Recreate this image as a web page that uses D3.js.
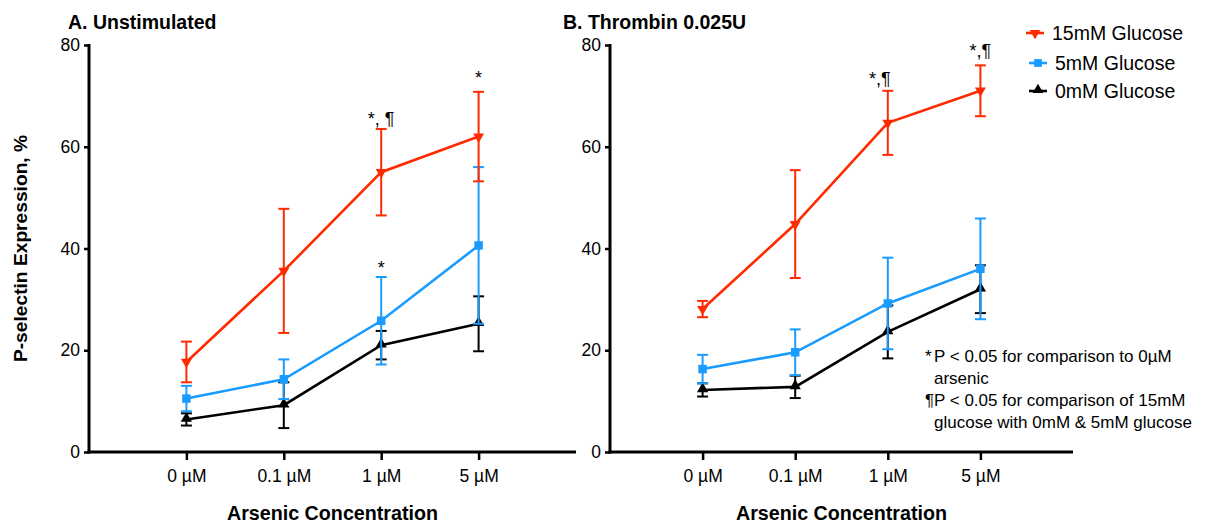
<!DOCTYPE html>
<html>
<head>
<meta charset="utf-8">
<script src="https://cdn.jsdelivr.net/npm/d3@7"></script>
<style>
  html, body { margin: 0; padding: 0; background: #fff; }
  svg { display: block; }
  text { font-family: "Liberation Sans", Arial, Helvetica, sans-serif; fill: #000; }
</style>
</head>
<body>
<svg id="chart" width="1211" height="525"></svg>
<script>
// ---------- data ----------
const categories = ["0 µM", "0.1 µM", "1 µM", "5 µM"];
const yTicks = [0, 20, 40, 60, 80];
const seriesNames = ["15mM Glucose", "5mM Glucose", "0mM Glucose"];
const seriesColors = ["#ff2a00", "#1a9bff", "#000000"];

// Panel A: Unstimulated (mean, error)
const unstim15 = [17.7, 35.6, 55.0, 62.0];
const unstim15Err = [4.0, 12.2, 8.5, 8.8];
const unstim5 = [10.5, 14.3, 25.8, 40.6];
const unstim5Err = [2.5, 3.9, 8.6, 15.4];
const unstim0 = [6.4, 9.2, 21.0, 25.2];
const unstim0Err = [1.2, 4.5, 2.8, 5.4];

// Panel B: Thrombin 0.025U (mean, error)
const thromb15 = [28.1, 44.8, 64.7, 71.0];
const thromb15Err = [1.6, 10.6, 6.3, 5.0];
const thromb5 = [16.3, 19.6, 29.2, 36.0];
const thromb5Err = [2.8, 4.5, 9.0, 9.9];
const thromb0 = [12.2, 12.8, 23.6, 32.0];
const thromb0Err = [1.3, 2.2, 5.2, 4.7];

// significance marks: category index, label, y (data units of baseline)
const unstimMarks = [
  { i: 2, label: "*, ¶", y: 64.3 },
  { i: 3, label: "*", y: 72.3 },
  { i: 2, label: "*", y: 35.0 }
];
const thrombMarks = [
  { i: 2, label: "*,¶", y: 72.1, dx: -8 },
  { i: 3, label: "*,¶", y: 77.6 }
];

const footnotes = [
  ["* ", "P < 0.05 for comparison to 0µM"],
  ["", "arsenic"],
  ["¶", "P < 0.05 for comparison of 15mM"],
  ["", "glucose with 0mM & 5mM glucose"]
];

// ---------- drawing ----------
const svg = d3.select("#chart");
const yTop = 45, yBottom = 452;

const panels = [
  {
    title: "A. Unstimulated", x0: 89, x1: 576, titleX: 68,
    series: [[unstim0, unstim0Err], [unstim5, unstim5Err], [unstim15, unstim15Err]],
    marks: unstimMarks
  },
  {
    title: "B. Thrombin 0.025U", x0: 610, x1: 1073, titleX: 563,
    series: [[thromb0, thromb0Err], [thromb5, thromb5Err], [thromb15, thromb15Err]],
    marks: thrombMarks
  }
];
// series drawn order: 0mM, 5mM, 15mM -> map to colours/symbols
const drawOrder = [2, 1, 0];

const symbolFor = (k, size) => {
  if (k === 1) return d3.symbol().type(d3.symbolSquare).size(size)();
  return d3.symbol().type(d3.symbolTriangle).size(size)();
};

const y = d3.scaleLinear().domain([0, 80]).range([yBottom, yTop]);

panels.forEach(p => {
  const x = d3.scaleLinear().domain([0, 5]).range([p.x0, p.x1]);
  const g = svg.append("g");

  // title
  g.append("text").attr("x", p.titleX).attr("y", 29)
    .attr("font-size", 19.5).attr("font-weight", "bold").text(p.title);

  // y axis
  const yAxis = d3.axisLeft(y).tickValues(yTicks).tickSize(5).tickPadding(4).tickFormat(d3.format("d"));
  const ya = g.append("g").attr("transform", `translate(${p.x0},0)`).call(yAxis);
  ya.select(".domain").attr("stroke-width", 3).attr("d", `M0,${yTop - 1}V${yBottom + 1.5}`);
  ya.selectAll(".tick line").attr("stroke-width", 2.5);
  ya.selectAll(".tick text").attr("font-size", 17.5).attr("font-family", "Liberation Sans, Arial, sans-serif").attr("fill", "#000");

  // x axis
  const xAxis = d3.axisBottom(x).tickValues([1, 2, 3, 4]).tickSize(8).tickPadding(10)
    .tickFormat((d) => categories[d - 1]);
  const xa = g.append("g").attr("transform", `translate(0,${yBottom})`).call(xAxis);
  xa.select(".domain").attr("stroke-width", 3).attr("d", `M${p.x0 - 1.5},0H${p.x1}`);
  xa.selectAll(".tick line").attr("stroke-width", 2.5);
  xa.selectAll(".tick text").attr("font-size", 17.5).attr("font-family", "Liberation Sans, Arial, sans-serif").attr("fill", "#000");

  // x label
  g.append("text").attr("x", (p.x0 + p.x1) / 2).attr("y", 520)
    .attr("text-anchor", "middle").attr("font-size", 19.7).attr("font-weight", "bold")
    .text("Arsenic Concentration");

  // series
  drawOrder.forEach((k, si) => {
    const [vals, errs] = p.series[si];
    const color = seriesColors[k];
    const sg = g.append("g");
    // error bars
    vals.forEach((v, i) => {
      const cx = x(i + 1);
      sg.append("line").attr("x1", cx).attr("x2", cx)
        .attr("y1", y(v + errs[i])).attr("y2", y(v - errs[i]))
        .attr("stroke", color).attr("stroke-width", 2);
      [v + errs[i], v - errs[i]].forEach(e => {
        sg.append("line").attr("x1", cx - 5.5).attr("x2", cx + 5.5)
          .attr("y1", y(e)).attr("y2", y(e))
          .attr("stroke", color).attr("stroke-width", 2);
      });
    });
    // line
    sg.append("path").datum(vals)
      .attr("d", d3.line().x((d, i) => x(i + 1)).y(d => y(d)))
      .attr("fill", "none").attr("stroke", color).attr("stroke-width", 2.6);
    // markers
    vals.forEach((v, i) => {
      const m = sg.append("path").attr("fill", color);
      if (k === 0) {
        m.attr("d", symbolFor(0, 52)).attr("transform", `translate(${x(i + 1)},${y(v)}) rotate(180)`);
      } else if (k === 1) {
        m.attr("d", symbolFor(1, 72)).attr("transform", `translate(${x(i + 1)},${y(v)})`);
      } else {
        m.attr("d", symbolFor(2, 55)).attr("transform", `translate(${x(i + 1)},${y(v) - 1})`);
      }
    });
  });

  // significance marks
  p.marks.forEach(mk => {
    g.append("text").attr("x", x(mk.i + 1) + (mk.dx || 0)).attr("y", y(mk.y))
      .attr("text-anchor", "middle").attr("font-size", 18).text(mk.label);
  });
});

// y-axis label
svg.append("text")
  .attr("transform", `translate(27,${(yTop + yBottom) / 2}) rotate(-90)`)
  .attr("text-anchor", "middle").attr("font-size", 19.2).attr("font-weight", "bold")
  .text("P-selectin Expression, %");

// legend
const legendRows = [
  { k: 0, y: 33, lx0: 1026, lx1: 1044, tx: 1052 },
  { k: 1, y: 63, lx0: 1029, lx1: 1047, tx: 1055 },
  { k: 2, y: 91, lx0: 1029, lx1: 1047, tx: 1055 }
];
const lg = svg.append("g");
legendRows.forEach(r => {
  const color = seriesColors[r.k];
  lg.append("line").attr("x1", r.lx0).attr("x2", r.lx1).attr("y1", r.y).attr("y2", r.y)
    .attr("stroke", color).attr("stroke-width", 2.6);
  const cx = (r.lx0 + r.lx1) / 2;
  const m = lg.append("path").attr("fill", color);
  if (r.k === 0) m.attr("d", symbolFor(0, 50)).attr("transform", `translate(${cx},${r.y}) rotate(180)`);
  else if (r.k === 1) m.attr("d", symbolFor(1, 60)).attr("transform", `translate(${cx},${r.y})`);
  else m.attr("d", symbolFor(2, 50)).attr("transform", `translate(${cx},${r.y - 1})`);
  lg.append("text").attr("x", r.tx).attr("y", r.y + 7).attr("font-size", 19.5).text(seriesNames[r.k]);
});

// footnote
const fn = svg.append("g");
footnotes.forEach((f, i) => {
  const t = fn.append("text").attr("y", 362 + i * 22).attr("font-size", 17);
  if (f[0]) t.append("tspan").attr("x", 925).text(f[0]);
  t.append("tspan").attr("x", 934).text(f[1]);
});
</script>
</body>
</html>
